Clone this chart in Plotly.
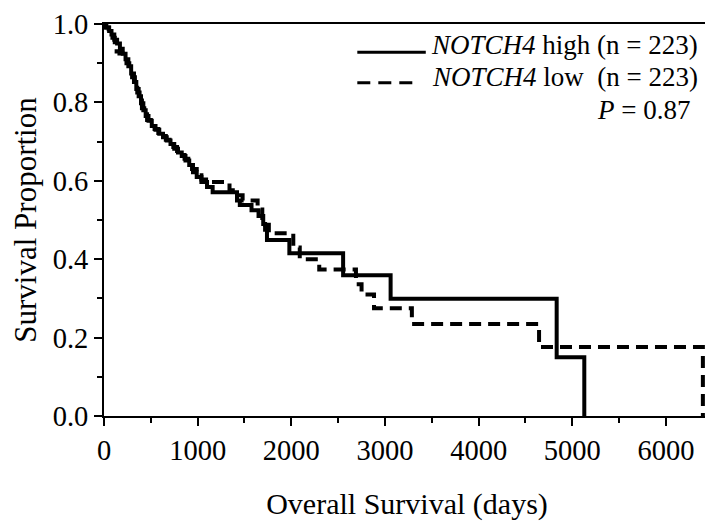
import plotly.graph_objects as go

# NOTCH4 high (solid) Kaplan-Meier steps: time (days), survival
high_days = [0, 25, 55, 80, 110, 140, 170, 200, 230, 260, 290, 320, 345, 370, 395, 420, 445,
             475, 510, 550, 590, 630, 670, 710, 750, 790, 830, 870, 910, 950, 990, 1040, 1100,
             1160, 1420, 1450, 1575, 1650, 1700, 1720, 1740, 1979, 2553, 3060, 4833, 5128]
high_surv = [1.0, 0.991, 0.982, 0.973, 0.96, 0.95, 0.937, 0.924, 0.91, 0.892, 0.874, 0.852,
             0.834, 0.816, 0.798, 0.78, 0.765, 0.753, 0.74, 0.73, 0.72, 0.711, 0.703, 0.694,
             0.682, 0.672, 0.663, 0.652, 0.64, 0.622, 0.61, 0.597, 0.584, 0.571, 0.55, 0.538,
             0.525, 0.51, 0.49, 0.475, 0.449, 0.415, 0.359, 0.299, 0.15, 0.0]

# NOTCH4 low (dashed)
low_days = [0, 20, 50, 90, 115, 135, 165, 200, 240, 270, 300, 330, 355, 380, 405, 430, 460,
            500, 540, 580, 620, 660, 700, 740, 780, 820, 860, 900, 940, 990, 1040, 1090, 1340,
            1400, 1480, 1640, 1690, 1720, 1760, 2021, 2090, 2298, 2690, 2750, 2883, 3287, 4645,
            6394]
low_surv = [1.0, 0.991, 0.978, 0.965, 0.945, 0.93, 0.925, 0.915, 0.9, 0.885, 0.864, 0.845,
            0.825, 0.805, 0.785, 0.77, 0.755, 0.743, 0.732, 0.722, 0.714, 0.705, 0.695, 0.686,
            0.676, 0.666, 0.656, 0.64, 0.63, 0.614, 0.603, 0.597, 0.576, 0.563, 0.55, 0.527,
            0.505, 0.488, 0.466, 0.43, 0.40, 0.374, 0.336, 0.31, 0.275, 0.235, 0.176, 0.0]

x_ticks = [0, 1000, 2000, 3000, 4000, 5000, 6000]
y_ticks = [0.0, 0.2, 0.4, 0.6, 0.8, 1.0]

FONT = "Liberation Serif"

fig = go.Figure()
fig.add_trace(go.Scatter(x=high_days, y=high_surv, mode="lines", line_shape="hv",
                         line=dict(color="black", width=4), showlegend=False))
fig.add_trace(go.Scatter(x=low_days, y=low_surv, mode="lines", line_shape="hv",
                         line=dict(color="black", width=4, dash="12px,7px"), showlegend=False))

# manual legend
fig.add_shape(type="line", xref="paper", yref="paper", x0=0.418, x1=0.531, y0=0.928, y1=0.928,
              line=dict(color="black", width=3))
fig.add_shape(type="line", xref="paper", yref="paper", x0=0.418, x1=0.516, y0=0.85, y1=0.85,
              line=dict(color="black", width=3, dash="13px,8px"))
fig.add_annotation(xref="paper", yref="paper", x=0.984, y=0.946, xanchor="right", yanchor="middle",
                   text="<i>NOTCH4</i> high (n = 223)", showarrow=False,
                   font=dict(family=FONT, size=27, color="black"))
fig.add_annotation(xref="paper", yref="paper", x=0.984, y=0.864, xanchor="right", yanchor="middle",
                   text="<i>NOTCH4</i> low  (n = 223)", showarrow=False,
                   font=dict(family=FONT, size=27, color="black"))
fig.add_annotation(xref="paper", yref="paper", x=0.97, y=0.7815, xanchor="right", yanchor="middle",
                   text="<i>P</i> = 0.87", showarrow=False,
                   font=dict(family=FONT, size=27, color="black"))

# page body has an 8px default margin, so the figure is offset by (8, 8)
fig.update_layout(
    width=705, height=513,
    margin=dict(l=96, r=1, t=13, b=105),
    paper_bgcolor="white", plot_bgcolor="white",
    font=dict(family=FONT, size=28, color="black"),
    xaxis=dict(range=[0, 6470], tickvals=x_ticks, showgrid=False, zeroline=False,
               showline=True, linecolor="black", linewidth=2, mirror=True,
               ticks="outside", ticklen=8, tickwidth=2, tickcolor="black",
               minor=dict(ticks="outside", ticklen=5, tickwidth=2, dtick=500, tick0=0, tickcolor="black"),
               tickfont=dict(size=28.5), ticklabeloverflow="allow",
               title=dict(text="Overall Survival (days)", font=dict(size=30), standoff=28)),
    yaxis=dict(range=[0, 1.0], tickvals=y_ticks, tickformat=".1f", showgrid=False, zeroline=False,
               showline=True, linecolor="black", linewidth=2, mirror=True,
               ticks="outside", ticklen=8, tickwidth=2, tickcolor="black",
               minor=dict(ticks="outside", ticklen=5, tickwidth=2, dtick=0.1, tick0=0, tickcolor="black"),
               tickfont=dict(size=28.5), ticklabeloverflow="allow",
               title=dict(text="Survival Proportion", font=dict(size=31), standoff=8)),
)

fig.write_html("out.html")
